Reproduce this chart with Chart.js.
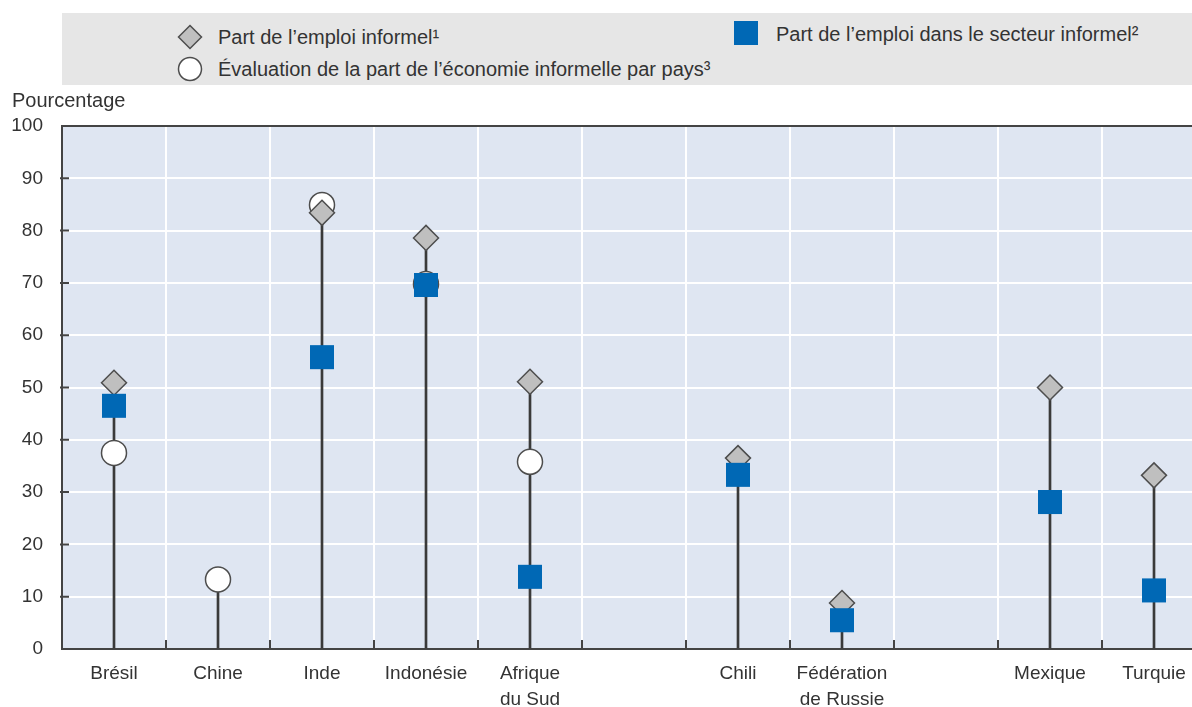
<!DOCTYPE html>
<html lang="fr">
<head>
<meta charset="utf-8">
<title>Emploi informel</title>
<script src="https://cdn.jsdelivr.net/npm/chart.js"></script>
<style>
  html, body { margin: 0; padding: 0; background: #fff; overflow: hidden; width: 1192px; height: 707px; }
  #stage {
    position: relative; width: 1192px; height: 707px; overflow: hidden;
    font-family: "Liberation Sans", Arial, sans-serif; color: #333;
  }
  #legendBox { position: absolute; left: 62px; top: 13px; width: 1130px; height: 72px; background: #e6e6e6; }
  .lg { position: absolute; font-size: 20px; line-height: 20px; white-space: nowrap; }
  .ic { position: absolute; }
  #unit { position: absolute; left: 12px; top: 90px; font-size: 20px; line-height: 20px; }
  #chart { position: absolute; left: 0; top: 0; }
</style>
</head>
<body>
<div id="stage">
<canvas id="chart" width="1210" height="707" style="width:1210px;height:707px"></canvas>

<div id="legendBox"></div>
<svg class="ic" style="left:177px;top:24px" width="26" height="26">
  <polygon points="13,1.5 24.5,13 13,24.5 1.5,13" fill="#bfbfbf" stroke="#4d4d4d" stroke-width="1.5"/>
</svg>
<div class="lg" style="left:218px;top:27px">Part de l’emploi informel¹</div>
<svg class="ic" style="left:177px;top:56px" width="26" height="26">
  <circle cx="13" cy="13" r="11.5" fill="#fff" stroke="#4d4d4d" stroke-width="1.5"/>
</svg>
<div class="lg" style="left:218px;top:59px">Évaluation de la part de l’économie informelle par pays³</div>
<svg class="ic" style="left:734px;top:21px" width="24" height="24">
  <rect x="0" y="0" width="24" height="24" fill="#0068b5"/>
</svg>
<div class="lg" style="left:776px;top:24px">Part de l’emploi dans le secteur informel²</div>
<div id="unit">Pourcentage</div>
</div>

<script>
// ===== データ =====
const categories = ['Brésil', 'Chine', 'Inde', 'Indonésie', ['Afrique', 'du Sud'], '',
    'Chili', ['Fédération', 'de Russie'], '', 'Mexique', 'Turquie'];
const yTicks = [0, 10, 20, 30, 40, 50, 60, 70, 80, 90, 100];
// Part de l'emploi informel (losange)
const emploiInformel = [50.9, null, 83.4, 78.6, 51.1, null, 36.5, 8.8, null, 50.0, 33.2];
// Part de l'emploi dans le secteur informel (carré)
const secteurInformel = [46.5, null, 55.8, 69.6, 13.8, null, 33.3, 5.5, null, 28.1, 11.2];
// Évaluation de la part de l'économie informelle par pays (cercle)
const economieInformelle = [37.5, 13.3, 84.9, 69.8, 35.8, null, null, null, null, null, null];

(function () {
    'use strict';

    // tige verticale = valeur max de chaque pays
    const stems = categories.map((_, i) => {
        const vals = [emploiInformel[i], secteurInformel[i], economieInformelle[i]].filter(v => v !== null);
        return vals.length ? Math.max.apply(null, vals) : null;
    });

    const frame = {
        id: 'frame',
        beforeDraw(chart) {
            const { ctx, chartArea: a } = chart;
            ctx.save();
            ctx.fillStyle = '#dfe6f2';
            ctx.fillRect(a.left, a.top, a.right - a.left, a.bottom - a.top);
            ctx.restore();
        },
        afterDraw(chart) {
            const { ctx, chartArea: a, scales: { x, y } } = chart;
            ctx.save();
            ctx.strokeStyle = '#444';
            ctx.lineWidth = 2;
            ctx.beginPath();
            // bord supérieur
            ctx.moveTo(a.left, a.top);
            ctx.lineTo(a.right, a.top);
            // petites graduations entre les pays
            for (let i = 1; i < categories.length; i++) {
                const px = (x.getPixelForTick(i - 1) + x.getPixelForTick(i)) / 2;
                ctx.moveTo(px, a.bottom);
                ctx.lineTo(px, a.bottom - 9);
            }
            // graduations de l'axe Y
            y.ticks.forEach((t, i) => {
                if (t.value === 0 || t.value === 100) return;
                const py = y.getPixelForTick(i);
                ctx.moveTo(a.left - 2, py);
                ctx.lineTo(a.left + 7, py);
            });
            ctx.stroke();
            ctx.restore();
        }
    };

    Chart.defaults.font.family = '"Liberation Sans", Arial, sans-serif';
    Chart.defaults.color = '#333';

    new Chart(document.getElementById('chart'), {
        type: 'bar',
        data: {
            labels: categories,
            datasets: [
                {
                    type: 'line', label: 'Part de l’emploi dans le secteur informel²',
                    data: secteurInformel, showLine: false, order: 0,
                    pointStyle: 'rect', pointRadius: 17, pointBackgroundColor: '#0068b5',
                    pointBorderWidth: 0, pointBorderColor: '#0068b5'
                },
                {
                    type: 'line', label: 'Part de l’emploi informel¹',
                    data: emploiInformel, showLine: false, order: 1,
                    pointStyle: 'rectRot', pointRadius: 12.5, pointBackgroundColor: '#bfbfbf',
                    pointBorderColor: '#4d4d4d', pointBorderWidth: 1.5
                },
                {
                    type: 'line', label: 'Évaluation de la part de l’économie informelle par pays³',
                    data: economieInformelle, showLine: false, order: 2,
                    pointStyle: 'circle', pointRadius: 12.5, pointBackgroundColor: '#ffffff',
                    pointBorderColor: '#4d4d4d', pointBorderWidth: 1.5
                },
                {
                    type: 'bar', label: 'tige', data: stems, order: 3,
                    backgroundColor: '#3a3a3a', barThickness: 2
                }
            ]
        },
        options: {
            responsive: false,
            animation: false,
            events: [],
            layout: { autoPadding: false, padding: { top: 126, right: 4, left: 0, bottom: 0 } },
            plugins: { legend: { display: false }, tooltip: { enabled: false } },
            scales: {
                x: {
                    offset: true,
                    grid: { offset: true, color: '#ffffff', lineWidth: 2, drawTicks: false },
                    border: { color: '#444', width: 2 },
                    ticks: { padding: 12, font: { size: 19, lineHeight: 1.37 }, color: '#333', maxRotation: 0, autoSkip: false },
                    afterFit(s) { s.height = 58; }
                },
                y: {
                    min: 0, max: 100,
                    afterBuildTicks(s) { s.ticks = yTicks.map(v => ({ value: v })); },
                    grid: { color: '#ffffff', lineWidth: 2, drawTicks: false },
                    border: { color: '#444', width: 2 },
                    ticks: { padding: 19, font: { size: 19 }, color: '#333' },
                    afterFit(s) { s.width = 62; }
                }
            }
        },
        plugins: [frame]
    });
})();
</script>
</body>
</html>
